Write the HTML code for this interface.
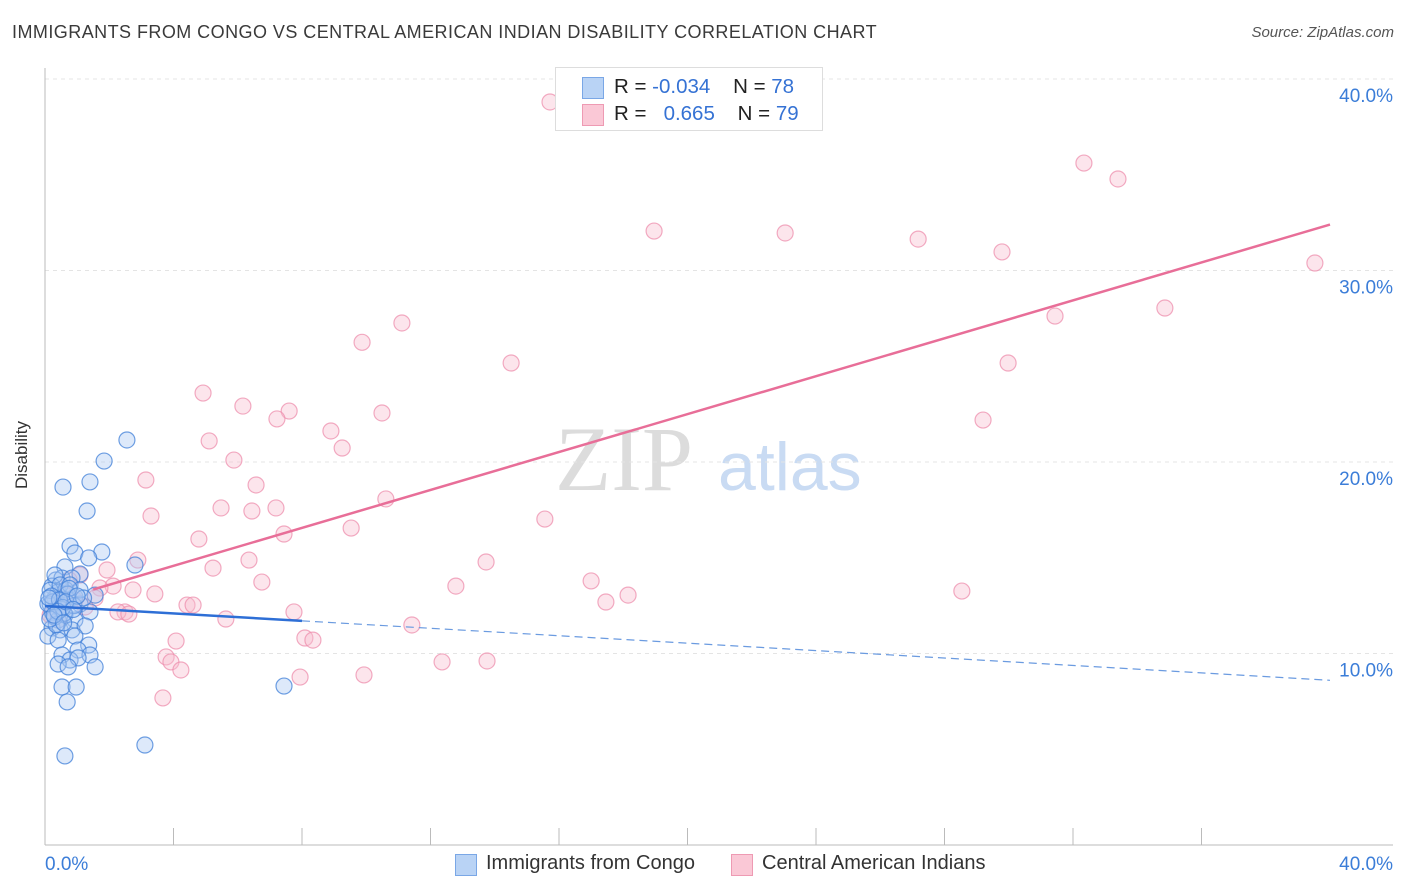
<!DOCTYPE html>
<html><head><meta charset="utf-8"><style>
body{margin:0;background:#fff;font-family:"Liberation Sans",sans-serif;}
#wrap{position:relative;width:1406px;height:892px;overflow:hidden;}
.t{position:absolute;white-space:nowrap;}
</style></head><body>
<div id="wrap">
<div class="t" style="left:12px;top:22px;font-size:18px;letter-spacing:0.45px;color:#3a3a3a;">IMMIGRANTS FROM CONGO VS CENTRAL AMERICAN INDIAN DISABILITY CORRELATION CHART</div>
<div class="t" style="right:12px;top:24px;font-size:15px;color:#555;font-style:italic;">Source: ZipAtlas.com</div>
<div class="t" style="left:-12px;top:445px;font-size:17px;color:#333;transform:rotate(-90deg);">Disability</div>
<svg id="svg" width="1406" height="892" style="position:absolute;left:0;top:0"></svg>
<div style="position:absolute;left:555px;top:67px;width:266px;height:62px;border:1px solid #ddd;background:#fff;font-size:20.5px;">
 <div style="position:absolute;left:26px;top:9px;width:20px;height:20px;background:#b9d3f5;border:1px solid #7aa7e6;"></div>
 <div class="t" style="left:58px;top:7px;color:#222;">R = <span style="color:#3572d4">-0.034</span>&nbsp;&nbsp;&nbsp; N = <span style="color:#3572d4">78</span></div>
 <div style="position:absolute;left:26px;top:36px;width:20px;height:20px;background:#fac8d6;border:1px solid #ee9ab3;"></div>
 <div class="t" style="left:58px;top:34px;color:#222;">R = &nbsp;&nbsp;<span style="color:#3572d4">0.665</span>&nbsp;&nbsp;&nbsp; N = <span style="color:#3572d4">79</span></div>
</div>
<div>
 <div style="position:absolute;left:455px;top:854px;width:20px;height:20px;background:#b9d3f5;border:1px solid #7aa7e6;"></div>
 <div class="t" style="left:486px;top:852px;font-size:20px;color:#333;">Immigrants from Congo</div>
 <div style="position:absolute;left:731px;top:854px;width:20px;height:20px;background:#fac8d6;border:1px solid #ee9ab3;"></div>
 <div class="t" style="left:762px;top:852px;font-size:20px;color:#333;">Central American Indians</div>
</div>
</div>
<script>
const yTicks=[10,20,30,40];
const yTickLabels=["10.0%","20.0%","30.0%","40.0%"];
const xTickLabels=["0.0%","40.0%"];
const congoX=[2.55,1.84,0.56,1.4,1.31,0.78,1.77,0.93,1.36,0.62,2.8,1.09,0.34,0.53,0.84,0.22,0.41,0.65,0.31,0.16,0.47,0.72,0.93,1.09,1.4,0.22,0.41,0.62,0.93,0.22,0.47,0.84,1.25,0.09,0.41,0.93,1.36,1.03,0.53,1.4,0.78,1.03,0.41,0.72,1.56,0.53,0.97,0.69,7.44,3.11,0.62,0.09,0.16,0.31,0.47,0.78,1.09,1.56,0.25,0.5,0.7,0.9,0.3,0.6,0.2,0.45,1.2,0.35,0.55,0.75,0.15,0.4,0.65,1.0,0.28,0.58,0.88,0.12];
const congoY=[21.15,20.05,18.69,18.96,17.44,15.61,15.3,15.25,14.99,14.52,14.62,14.15,13.84,13.94,13.94,13.52,13.21,13.32,12.9,12.58,12.48,12.79,12.95,12.58,12.17,12.17,11.75,12.01,11.75,11.33,11.23,11.23,11.44,10.91,10.7,10.91,10.44,10.18,9.92,9.92,9.66,9.77,9.45,9.3,9.3,8.25,8.25,7.47,8.3,5.22,4.65,12.6,13.3,14.1,13.58,13.58,13.32,13.05,12.7,12.3,13.1,12.5,11.9,12.1,13.0,12.8,12.9,11.5,12.4,13.4,11.8,12.2,12.7,13.0,12.0,11.6,12.3,12.9];
const caiX=[15.72,32.34,33.4,18.96,23.04,27.18,29.79,39.53,34.86,31.44,11.11,9.87,14.51,29.98,4.92,6.16,7.6,7.22,10.49,8.9,5.11,9.25,29.2,5.88,3.14,6.57,10.61,5.48,3.3,6.44,7.19,15.56,9.53,7.44,4.79,2.89,6.35,1.93,13.73,5.23,6.75,17.0,2.12,12.79,2.74,1.09,0.75,1.71,3.42,18.15,28.54,17.46,4.42,4.61,2.49,2.27,2.61,7.75,5.63,11.42,4.08,8.09,8.34,3.77,3.92,4.23,12.36,13.76,9.93,7.94,3.67,0.47,0.31,0.62,0.93,1.56,0.16,0.41,1.25];
const caiY=[38.8,35.61,34.78,32.06,31.96,31.64,30.97,30.39,28.04,27.62,27.26,26.25,25.17,25.17,23.6,22.92,22.66,22.25,22.56,21.62,21.1,20.73,22.19,20.1,19.06,18.8,18.07,17.6,17.18,17.44,17.6,17.02,16.55,16.24,15.98,14.88,14.88,14.36,14.78,14.46,13.73,13.79,13.52,13.52,13.32,14.1,13.84,13.42,13.11,13.05,13.26,12.69,12.53,12.53,12.17,12.17,12.06,12.17,11.8,11.49,10.65,10.81,10.7,9.82,9.56,9.14,9.56,9.61,8.88,8.77,7.68,12.79,12.27,13.05,12.79,12.9,12.01,11.75,12.43];
const congoTrend=[12.48,-0.097];
const caiTrend=[12.6,0.495];
const X0=45,X1=1330,Y0=845,PXY=19.15;
const sx=v=>X0+(X1-X0)*v/40, sy=v=>Y0-v*PXY;
const svg=document.getElementById('svg');const NS='http://www.w3.org/2000/svg';
function mk(t,a){const e=document.createElementNS(NS,t);for(const k in a)e.setAttribute(k,a[k]);svg.appendChild(e);return e;}
let w=mk('text',{x:555,y:490,'font-size':92,fill:'#dcdcdc','font-family':'Liberation Serif, serif'});w.textContent='ZIP';


let w2=mk('text',{x:718,y:490,'font-size':68,fill:'#c9dbf3','font-family':'Liberation Sans, sans-serif'});w2.textContent='atlas';


yTicks.forEach((v,i)=>{
 const g=mk('line',{x1:X0,x2:1393,y1:sy(v),y2:sy(v),stroke:'#e4e4e4','stroke-dasharray':'4,4'});
 
 
 const t=mk('text',{x:1393,y:sy(v)+23,'text-anchor':'end','font-size':19,fill:'#3b7dd8'});t.textContent=yTickLabels[i];
 
 
});
let ax=mk('line',{x1:X0,x2:X0,y1:68,y2:Y0,stroke:'#bbb'});


let bx=mk('line',{x1:X0,x2:1393,y1:Y0,y2:Y0,stroke:'#bbb'});


for(let i=1;i<=9;i++){const tk=mk('line',{x1:sx(i*4),x2:sx(i*4),y1:828,y2:Y0,stroke:'#bbb'});
 
 }
[[0,'start',X0],[1,'end',1393]].forEach(([i,a,x])=>{const t=mk('text',{x:x,y:870,'text-anchor':a,'font-size':19,fill:'#3b7dd8'});t.textContent=xTickLabels[i];
 
 });
function pts(xs,ys,fill,stroke,name){xs.forEach((x,i)=>{const c=mk('circle',{cx:sx(x),cy:sy(ys[i]),r:8,fill:fill,'fill-opacity':0.4,stroke:stroke,'stroke-width':1.2,'stroke-opacity':0.75});
 
 });}
pts(caiX,caiY,'#f8bfd0','#ee8fae','point-central-american-indian');
pts(congoX,congoY,'#a9c9f2','#3f7fd8','point-congo');
let l1=mk('line',{x1:sx(0),y1:sy(congoTrend[0]),x2:sx(8),y2:sy(congoTrend[0]+congoTrend[1]*8),stroke:'#2e6fd6','stroke-width':2.5});


let l2=mk('line',{x1:sx(8),y1:sy(congoTrend[0]+congoTrend[1]*8),x2:sx(40),y2:sy(congoTrend[0]+congoTrend[1]*40),stroke:'#6b9be0','stroke-width':1.2,'stroke-dasharray':'8,5'});


let l3=mk('line',{x1:sx(1.5),y1:sy(caiTrend[0]+caiTrend[1]*1.5),x2:sx(40),y2:sy(caiTrend[0]+caiTrend[1]*40),stroke:'#e86e98','stroke-width':2.5});


</script>
</body></html>
